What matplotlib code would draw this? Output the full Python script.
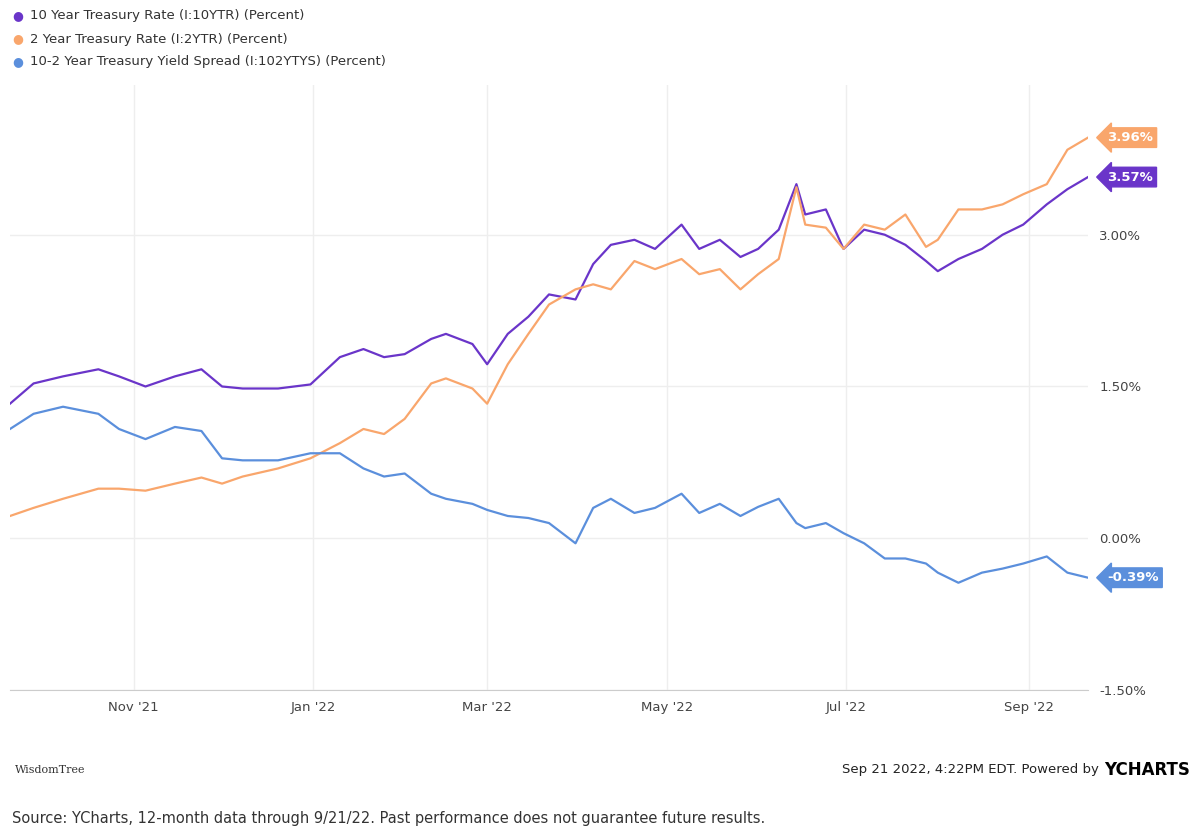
import numpy as np
import matplotlib.pyplot as plt
import matplotlib.dates as mdates
from datetime import date

dates = ["2021-09-20", "2021-09-28", "2021-10-08", "2021-10-20", "2021-10-27", "2021-11-05",
         "2021-11-15", "2021-11-24", "2021-12-01", "2021-12-08", "2021-12-20", "2021-12-31",
         "2022-01-10", "2022-01-18", "2022-01-25", "2022-02-01", "2022-02-10", "2022-02-15",
         "2022-02-24", "2022-03-01", "2022-03-08", "2022-03-15", "2022-03-22", "2022-03-31",
         "2022-04-06", "2022-04-12", "2022-04-20", "2022-04-27", "2022-05-06", "2022-05-12",
         "2022-05-19", "2022-05-26", "2022-06-01", "2022-06-08", "2022-06-14", "2022-06-17",
         "2022-06-24", "2022-06-30", "2022-07-07", "2022-07-14", "2022-07-21", "2022-07-28",
         "2022-08-01", "2022-08-08", "2022-08-16", "2022-08-23", "2022-08-30", "2022-09-07",
         "2022-09-14", "2022-09-21"]
ten_year = [1.33, 1.53, 1.60, 1.67, 1.60, 1.50, 1.60, 1.67, 1.50, 1.48, 1.48, 1.52,
            1.79, 1.87, 1.79, 1.82, 1.97, 2.02, 1.92, 1.72, 2.02, 2.19, 2.41, 2.36,
            2.71, 2.90, 2.95, 2.86, 3.10, 2.86, 2.95, 2.78, 2.86, 3.05, 3.50, 3.20,
            3.25, 2.86, 3.05, 3.00, 2.90, 2.74, 2.64, 2.76, 2.86, 3.00, 3.10, 3.30,
            3.45, 3.57]
two_year = [0.22, 0.30, 0.39, 0.49, 0.49, 0.47, 0.54, 0.60, 0.54, 0.61, 0.69, 0.79,
            0.94, 1.08, 1.03, 1.18, 1.53, 1.58, 1.48, 1.33, 1.72, 2.02, 2.31, 2.46,
            2.51, 2.46, 2.74, 2.66, 2.76, 2.61, 2.66, 2.46, 2.61, 2.76, 3.47, 3.10,
            3.07, 2.86, 3.10, 3.05, 3.20, 2.88, 2.95, 3.25, 3.25, 3.30, 3.40, 3.50,
            3.84, 3.96]
spread = [1.08, 1.23, 1.30, 1.23, 1.08, 0.98, 1.10, 1.06, 0.79, 0.77, 0.77, 0.84,
          0.84, 0.69, 0.61, 0.64, 0.44, 0.39, 0.34, 0.28, 0.22, 0.20, 0.15, -0.05,
          0.30, 0.39, 0.25, 0.30, 0.44, 0.25, 0.34, 0.22, 0.31, 0.39, 0.15, 0.10,
          0.15, 0.05, -0.05, -0.20, -0.20, -0.25, -0.34, -0.44, -0.34, -0.30, -0.25, -0.18,
          -0.34, -0.39]

x = [date.fromisoformat(d) for d in dates]
purple, orange, blue = "#6a35c9", "#f9a66c", "#5b8fdc"

fig = plt.figure(figsize=(12, 8.35), dpi=100)
ax = fig.add_axes([10/1200, 1-690/835, 1078/1200, 605/835])

ax.plot(x, ten_year, color=purple, lw=1.6)
ax.plot(x, two_year, color=orange, lw=1.6)
ax.plot(x, spread, color=blue, lw=1.6)

ax.set_xlim(date(2021, 9, 20), date(2022, 9, 21))
ax.set_ylim(-1.5, 4.48)
ax.yaxis.tick_right()
ax.set_yticks([-1.5, 0, 1.5, 3.0])
ax.set_yticklabels(["-1.50%", "0.00%", "1.50%", "3.00%"])
ax.xaxis.set_major_locator(mdates.MonthLocator(bymonth=[1, 3, 5, 7, 9, 11]))
ax.xaxis.set_major_formatter(mdates.DateFormatter("%b '%y"))
ax.tick_params(length=0, labelsize=9.5, colors="#444444", pad=8)
ax.grid(color="#eeeeee", lw=1)
for s in ["top", "right", "left"]:
    ax.spines[s].set_visible(False)
ax.spines["bottom"].set_color("#cccccc")

for val, c in [(ten_year[-1], purple), (two_year[-1], orange), (spread[-1], blue)]:
    ax.annotate(f"{val:.2f}%", (x[-1], val), xytext=(14, 0), textcoords="offset points",
                va="center", ha="left", color="white", fontsize=9.5, fontweight="bold",
                bbox=dict(boxstyle="larrow,pad=0.25", fc=c, ec=c))

legend = [("10 Year Treasury Rate (I:10YTR) (Percent)", purple),
          ("2 Year Treasury Rate (I:2YTR) (Percent)", orange),
          ("10-2 Year Treasury Yield Spread (I:102YTYS) (Percent)", blue)]
for i, (lab, c) in enumerate(legend):
    yy = 1 - (16 + 23 * i) / 835
    fig.text(12/1200, yy, "\u25cf", color=c, fontsize=9, va="center")
    fig.text(30/1200, yy, lab, color="#333333", fontsize=9.5, va="center")

fig.text(15/1200, 1-770/835, "WisdomTree", fontsize=8, family="serif", color="#333333", va="center")
fig.text(1103/1200, 1-770/835, "Sep 21 2022, 4:22PM EDT. Powered by ", fontsize=9.5,
         ha="right", va="center", color="#222222")
fig.text(1190/1200, 1-770/835, "YCHARTS", fontsize=12, fontweight="bold", ha="right", va="center")
fig.text(12/1200, 1-818/835,
         "Source: YCharts, 12-month data through 9/21/22. Past performance does not guarantee future results.",
         fontsize=10.5, color="#333333", va="center")

fig.savefig("out.png")
